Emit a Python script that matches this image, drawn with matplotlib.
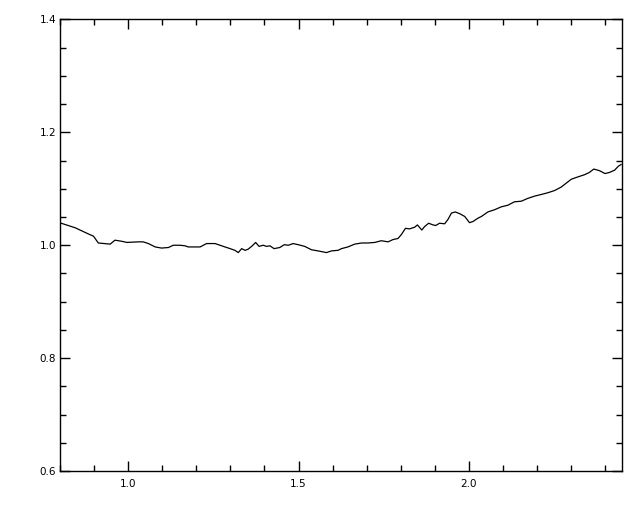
import numpy as np
import matplotlib
matplotlib.use("Agg")
import matplotlib.pyplot as plt
from matplotlib.ticker import MultipleLocator

# values
x = [0.803, 0.844, 0.883, 0.898, 0.912, 0.947, 0.961, 0.981, 0.996, 1.030,
     1.044, 1.059, 1.079, 1.098, 1.118, 1.132, 1.152, 1.167, 1.176, 1.196,
     1.211, 1.230, 1.255, 1.279, 1.299, 1.313, 1.323, 1.333, 1.343, 1.352,
     1.364, 1.374, 1.384, 1.396, 1.406, 1.416, 1.428, 1.445, 1.458, 1.470,
     1.484, 1.499, 1.518, 1.538, 1.557, 1.582, 1.597, 1.616, 1.626, 1.645,
     1.665, 1.685, 1.704, 1.724, 1.743, 1.763, 1.777, 1.792, 1.802, 1.814,
     1.826, 1.841, 1.849, 1.862, 1.870, 1.882, 1.895, 1.903, 1.914, 1.929,
     1.939, 1.949, 1.960, 1.973, 1.988, 2.002, 2.012, 2.027, 2.037, 2.056,
     2.076, 2.095, 2.115, 2.134, 2.154, 2.173, 2.193, 2.213, 2.232, 2.252,
     2.271, 2.286, 2.301, 2.320, 2.340, 2.354, 2.367, 2.384, 2.400, 2.413,
     2.428, 2.439, 2.447]
y = [1.039, 1.031, 1.020, 1.016, 1.004, 1.002, 1.009, 1.007, 1.005, 1.006,
     1.006, 1.003, 0.997, 0.995, 0.996, 1.000, 1.000, 0.999, 0.997, 0.997,
     0.997, 1.003, 1.003, 0.998, 0.994, 0.991, 0.987, 0.994, 0.991, 0.993,
     0.999, 1.005, 0.998, 1.000, 0.998, 0.999, 0.994, 0.996, 1.001, 1.000,
     1.003, 1.001, 0.998, 0.992, 0.990, 0.987, 0.990, 0.991, 0.994, 0.997,
     1.002, 1.004, 1.004, 1.005, 1.008, 1.006, 1.010, 1.012, 1.019, 1.030,
     1.029, 1.032, 1.036, 1.027, 1.033, 1.039, 1.036, 1.035, 1.039, 1.038,
     1.046, 1.057, 1.059, 1.056, 1.051, 1.040, 1.042, 1.048, 1.051, 1.059,
     1.063, 1.068, 1.071, 1.077, 1.078, 1.083, 1.087, 1.090, 1.093, 1.097,
     1.103, 1.110, 1.117, 1.121, 1.125, 1.129, 1.135, 1.132, 1.127, 1.129,
     1.133, 1.140, 1.143]

xticks = [1.0, 1.5, 2.0]
yticks = [0.6, 0.8, 1.0, 1.2, 1.4]

fig = plt.figure(figsize=(6.4, 5.12), dpi=100)
ax = fig.add_axes([0.094, 0.080, 0.878, 0.882])

ax.plot(x, y, color="black", lw=0.9)

ax.set_xlim(0.8, 2.45)
ax.set_ylim(0.6, 1.4)
ax.set_xticks(xticks)
ax.set_xticklabels([f"{v:.1f}" for v in xticks])
ax.set_yticks(yticks)
ax.set_yticklabels([f"{v:.1f}" for v in yticks])
ax.xaxis.set_minor_locator(MultipleLocator(0.1))
ax.yaxis.set_minor_locator(MultipleLocator(0.05))

ax.tick_params(which="both", direction="in", top=True, right=True,
               width=1.0, labelsize=7.5, color="black")
ax.tick_params(which="major", length=7.5)
ax.tick_params(which="minor", length=4)
ax.tick_params(axis="x", which="major", pad=6)
ax.tick_params(axis="y", which="major", pad=3)
for s in ax.spines.values():
    s.set_linewidth(1.0)

fig.savefig("out.png", dpi=100)
